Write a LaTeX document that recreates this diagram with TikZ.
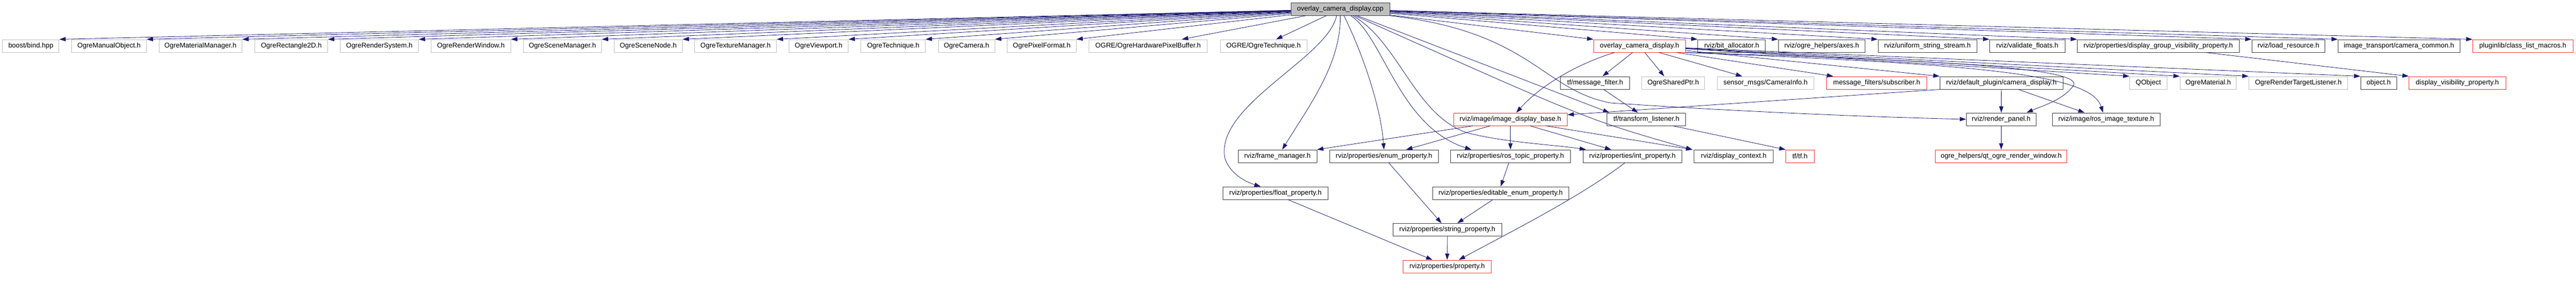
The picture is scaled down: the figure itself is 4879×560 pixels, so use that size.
\documentclass[tikz,border=0pt]{standalone}
\usepackage{fontspec}
\setmainfont{Liberation Sans}
\usetikzlibrary{arrows.meta}
\definecolor{edgeblue}{HTML}{191970}
\definecolor{boxgray}{HTML}{BFBFBF}
\definecolor{boxdark}{HTML}{404040}
\definecolor{boxred}{HTML}{FF3030}

\begin{document}
\begin{tikzpicture}[x=1pt,y=-1pt,
  >={Triangle[length=12pt,width=8pt]},
  file/.style={draw=boxdark, line width=1pt, minimum height=24pt,
    inner sep=0pt, font=\fontsize{13}{15}\selectfont},
  ext/.style={file, draw=boxgray},
  trunc/.style={file, draw=boxred},
  dep/.style={->, draw=edgeblue, line width=0.8pt}]
\useasboundingbox (0,0) rectangle (4879,560);

% the source file
\node[file, fill=boxgray, minimum width=187] (root) at (2538.5,17.3) {overlay\_camera\_display.cpp};

% first row
\node[ext, minimum width=107]   (bind)      at (58.4,87)   {boost/bind.hpp};
\node[ext, minimum width=141.6] (manual)    at (206.5,87)  {OgreManualObject.h};
\node[ext, minimum width=157.3] (matman)    at (379.7,87)  {OgreMaterialManager.h};
\node[ext, minimum width=137.7] (rect2d)    at (551.8,87)  {OgreRectangle2D.h};
\node[ext, minimum width=148.4] (rsys)      at (718.5,87)  {OgreRenderSystem.h};
\node[ext, minimum width=151]   (rwin)      at (891.8,87)  {OgreRenderWindow.h};
\node[ext, minimum width=148.3] (scnmgr)    at (1065.2,87) {OgreSceneManager.h};
\node[ext, minimum width=129.3] (scnnode)   at (1227.7,87) {OgreSceneNode.h};
\node[ext, minimum width=155]   (texmgr)    at (1393.2,87) {OgreTextureManager.h};
\node[ext, minimum width=112.4] (viewport)  at (1550.5,87) {OgreViewport.h};
\node[ext, minimum width=121.7] (technique) at (1691.8,87) {OgreTechnique.h};
\node[ext, minimum width=107]   (camera)    at (1830.5,87) {OgreCamera.h};
\node[ext, minimum width=130.6] (pixfmt)    at (1973,87)   {OgrePixelFormat.h};
\node[ext, minimum width=224.4] (hwpix)     at (2174.5,87) {OGRE/OgreHardwarePixelBuffer.h};
\node[ext, minimum width=164]   (ogretech)  at (2393,87)   {OGRE/OgreTechnique.h};
\node[trunc, minimum width=173.7] (ocdh)    at (3105.2,87) {overlay\_camera\_display.h};
\node[file, minimum width=128.3] (bitalloc) at (3279.8,87) {rviz/bit\_allocator.h};
\node[file, minimum width=164]   (axes)     at (3450.3,87) {rviz/ogre\_helpers/axes.h};
\node[file, minimum width=187]   (uss)      at (3650.5,87) {rviz/uniform\_string\_stream.h};
\node[file, minimum width=142.7] (validate) at (3839.7,87) {rviz/validate\_floats.h};
\node[file, minimum width=306.7] (dgvp)     at (4087.7,87) {rviz/properties/display\_group\_visibility\_property.h};
\node[file, minimum width=138.7] (loadres)  at (4334.3,87) {rviz/load\_resource.h};
\node[file, minimum width=230.7] (camcommon) at (4543.7,87) {image\_transport/camera\_common.h};
\node[trunc, minimum width=190]  (classlist) at (4778.3,87) {pluginlib/class\_list\_macros.h};

% second row
\node[file, minimum width=131]   (msgfilter)  at (3021.2,157) {tf/message\_filter.h};
\node[ext, minimum width=119.4]  (sharedptr)  at (3169,157)   {OgreSharedPtr.h};
\node[ext, minimum width=183]    (caminfo)    at (3343.8,157) {sensor\_msgs/CameraInfo.h};
\node[trunc, minimum width=189.6] (subscriber) at (3554.5,157) {message\_filters/subscriber.h};
\node[file, minimum width=233.3] (camdisp)    at (3790.7,157) {rviz/default\_plugin/camera\_display.h};
\node[ext, minimum width=70.6]   (qobject)    at (4069,157)   {QObject};
\node[ext, minimum width=106.7]  (material)   at (4182.3,157) {OgreMaterial.h};
\node[ext, minimum width=187.4]  (rtl)        at (4353,157)   {OgreRenderTargetListener.h};
\node[file, minimum width=68.3]  (object)     at (4505.2,157) {object.h};
\node[trunc, minimum width=183.3] (dvp)       at (4654.3,157) {display\_visibility\_property.h};

% third row
\node[trunc, minimum width=215] (idb)         at (2860.8,226) {rviz/image/image\_display\_base.h};
\node[file, minimum width=149.3] (tflisten)   at (3118.3,226) {tf/transform\_listener.h};
\node[file, minimum width=132]   (renderpanel) at (3790.3,226) {rviz/render\_panel.h};
\node[file, minimum width=204.3] (rostex)     at (3989.2,226) {rviz/image/ros\_image\_texture.h};

% fourth row
\node[file, minimum width=149]   (framemgr) at (2419.5,296) {rviz/frame\_manager.h};
\node[file, minimum width=205.7] (enumprop) at (2621.2,296) {rviz/properties/enum\_property.h};
\node[file, minimum width=227]   (rostopic) at (2860.8,296) {rviz/properties/ros\_topic\_property.h};
\node[file, minimum width=186.7] (intprop)  at (3091.7,296) {rviz/properties/int\_property.h};
\node[file, minimum width=149.7] (dispctx)  at (3283.8,296) {rviz/display\_context.h};
\node[trunc, minimum width=53.7] (tftf)     at (3409.2,296) {tf/tf.h};
\node[trunc, minimum width=248.7] (qtogre)  at (3790.3,296) {ogre\_helpers/qt\_ogre\_render\_window.h};

% lower rows
\node[file, minimum width=199.3] (floatprop)  at (2415.7,366) {rviz/properties/float\_property.h};
\node[file, minimum width=258]   (editenum)   at (2842.3,366) {rviz/properties/editable\_enum\_property.h};
\node[file, minimum width=205.7] (stringprop) at (2741.2,435.5) {rviz/properties/string\_property.h};
\node[trunc, minimum width=166.6] (property)  at (2741,505) {rviz/properties/property.h};

% includes of the source file
\foreach \n in {bind,manual,matman,rect2d,rsys,rwin,scnmgr,scnnode,texmgr,viewport,technique,camera,pixfmt}
  \draw[dep] (root) -- (\n.north east);
\draw[dep] (root) -- ([xshift=64]hwpix.north);
\draw[dep] (root) -- ([xshift=24]ogretech.north);
\foreach \n in {ocdh,bitalloc,axes,uss,validate,dgvp,loadres,camcommon,classlist}
  \draw[dep] (root) -- (\n.north west);
\draw[dep] ([xshift=-7]root.south) .. controls (2515,110) and (2300,200) .. (2320,300)
  .. controls (2330,330) and (2360,345) .. ([xshift=-28]floatprop.north);
\draw[dep] (root.south) .. controls (2540,120) and (2480,200) .. ([xshift=9]framemgr.north);
\draw[dep] ([xshift=7]root.south) .. controls (2580,100) and (2615,200) .. (enumprop.north);
\draw[dep] ([xshift=20]root.south) .. controls (2620,70) and (2650,240) .. ([xshift=-74]rostopic.north);
\draw[dep] ([xshift=24]root.south) .. controls (2650,80) and (2680,220) .. (2780,252)
  .. controls (2850,270) and (2950,275) .. ([xshift=6]intprop.north west);
\draw[dep] (root) -- ([xshift=5]tflisten.north west);
\draw[dep] (root) .. controls (3010,228) .. ([xshift=-3]dispctx.north west);
\draw[dep] (root.south east) .. controls (2900,60) and (2920,170) .. (3050,195)
  .. controls (3300,212) and (3550,222) .. (renderpanel.west);

% includes of the header
\draw[dep] ([xshift=-47]ocdh.south) .. controls (2990,120) and (2920,160) .. ([xshift=11]idb.north);
\draw[dep] ([xshift=-13]ocdh.south) -- ([xshift=14]msgfilter.north);
\draw[dep] ([xshift=10]ocdh.south) -- ([xshift=-17]sharedptr.north);
\draw[dep] ([xshift=37]ocdh.south) -- ([xshift=-44]caminfo.north);
\draw[dep] ([xshift=-17]ocdh.south east) -- ([xshift=13]subscriber.north west);
\foreach \n in {camdisp,qobject,material,rtl,object}
  \draw[dep] (ocdh) -- (\n.north west);
\draw[dep] (ocdh.south east) .. controls (3700,115) and (3960,130) .. (3925,165)
  .. controls (3905,190) and (3870,200) .. ([xshift=48]renderpanel.north);
\draw[dep] (ocdh.south east) .. controls (3750,122) and (3960,140) .. ([xshift=-6]rostex.north);
\draw[dep] ([xshift=90]dgvp.south) -- (dvp.north west);

% camera display
\draw[dep] (camdisp.south west) -- ([yshift=-4]idb.north east);
\draw[dep] (camdisp) -- (renderpanel);
\draw[dep] ([xshift=32]camdisp.south) -- ([xshift=-41]rostex.north);

% image display base
\draw[dep] ([xshift=-71]idb.south) -- (framemgr.north east);
\draw[dep] ([xshift=-38]idb.south) -- ([xshift=42]enumprop.north);
\draw[dep] (idb) -- (rostopic);
\draw[dep] ([xshift=37]idb.south) -- ([xshift=-40]intprop.north);
\draw[dep] ([xshift=67]idb.south) -- ([xshift=-3]dispctx.north west);

% tf
\draw[dep] ([xshift=16]msgfilter.south) -- ([xshift=-16]tflisten.north);
\draw[dep] ([xshift=50]tflisten.south) -- (tftf.north west);

% properties
\draw[dep] ([xshift=-3]rostopic.south) -- (editenum.north);
\draw[dep] ([xshift=9]enumprop.south) -- ([xshift=-11]stringprop.north);
\draw[dep] ([xshift=-15]editenum.south) -- ([xshift=19]stringprop.north);
\draw[dep] (stringprop) -- (property);
\draw[dep] ([xshift=24]floatprop.south) -- ([xshift=-28]property.north);
\draw[dep] ([xshift=-14]intprop.south) .. controls (2990,375) and (2860,440) .. ([xshift=22]property.north);
\draw[dep] (renderpanel) -- (qtogre);

\end{tikzpicture}
\end{document}
